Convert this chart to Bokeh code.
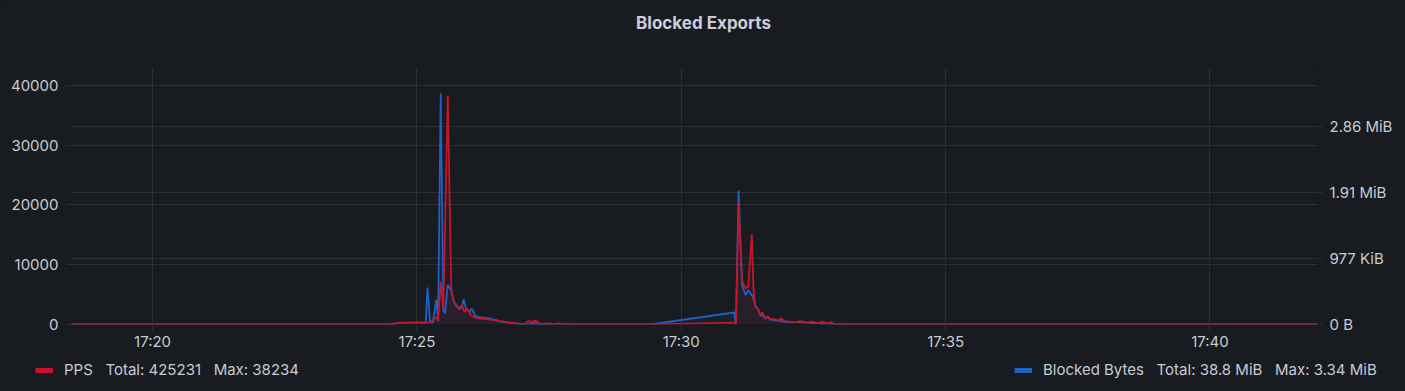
import pandas as pd
from bokeh.plotting import figure
from bokeh.layouts import column
from bokeh.models import (Range1d, LinearAxis, FixedTicker, DatetimeTickFormatter,
                          NumeralTickFormatter, Grid, Legend, LegendItem, Label)
from bokeh.embed import file_html
from bokeh.resources import INLINE

DAY = "2024-01-01 "

# ---- PPS series (left axis) ----
pps_times = ["17:18:28", "17:24:30", "17:24:38", "17:24:50", "17:25:05", "17:25:12", "17:25:16",
             "17:25:22", "17:25:24", "17:25:27", "17:25:30", "17:25:35", "17:25:39", "17:25:42",
             "17:25:45", "17:25:48", "17:25:51", "17:25:54", "17:25:57", "17:26:01", "17:26:05",
             "17:26:08", "17:26:24", "17:26:35", "17:26:46", "17:26:58", "17:27:03", "17:27:07",
             "17:27:09", "17:27:11", "17:27:12", "17:27:14", "17:27:15", "17:27:16", "17:27:19",
             "17:27:30", "17:27:36", "17:27:40", "17:27:55", "17:29:25", "17:31:00", "17:31:02",
             "17:31:05", "17:31:09", "17:31:13", "17:31:16", "17:31:20", "17:31:22", "17:31:24",
             "17:31:27", "17:31:30", "17:31:32", "17:31:35", "17:31:38", "17:31:41", "17:31:45",
             "17:31:49", "17:31:53", "17:31:57", "17:32:04", "17:32:11", "17:32:15", "17:32:22",
             "17:32:29", "17:32:36", "17:32:40", "17:32:45", "17:32:50", "17:32:55", "17:33:07",
             "17:42:02"]
pps_values = [0, 0, 250, 300, 320, 300, 430,
              1170, 700, 7120, 2700, 38234, 5735, 3779,
              3227, 2675, 3227, 2107, 2675, 1555, 1270,
              1053, 800, 550, 330, 130, 100, 700,
              150, 650, 120, 700, 150, 600, 100,
              180, 60, 200, 0, 0, 300, 0,
              20400, 7400, 6020, 6400, 15100, 5735, 2940,
              2560, 1555, 2057, 1053, 1388, 886, 970,
              635, 1053, 550, 470, 385, 550, 300,
              470, 220, 470, 220, 385, 50, 0,
              0]

# ---- Blocked Bytes series (right axis) ----
bytes_times = ["17:18:28", "17:24:30", "17:24:38", "17:24:50", "17:25:05", "17:25:10", "17:25:12",
               "17:25:15", "17:25:18", "17:25:22", "17:25:24", "17:25:27", "17:25:30", "17:25:32",
               "17:25:35", "17:25:39", "17:25:42", "17:25:45", "17:25:48", "17:25:51", "17:25:53",
               "17:25:56", "17:26:00", "17:26:02", "17:26:06", "17:26:09", "17:26:24", "17:26:35",
               "17:26:46", "17:27:03", "17:29:25", "17:31:00", "17:31:02", "17:31:05", "17:31:09",
               "17:31:13", "17:31:16", "17:31:20", "17:31:22", "17:31:24", "17:31:27", "17:31:30",
               "17:31:32", "17:31:35", "17:31:38", "17:31:41", "17:31:49", "17:31:57", "17:32:15",
               "17:32:32", "17:32:55", "17:33:07", "17:42:02"]
bytes_values = [0, 0, 20000, 28000, 30000, 25000, 560000,
                35000, 27000, 379000, 50000, 3502243, 217000, 171000,
                600000, 520000, 342000, 277000, 232000, 262000, 379000,
                232000, 191000, 242000, 141000, 115000, 88000, 45000,
                23000, 0, 0, 182000, 15000, 2025000, 595000,
                444000, 520000, 444000, 398000, 292000, 232000, 126000,
                156000, 88000, 118000, 73000, 58000, 42000, 35000,
                20000, 5000, 0, 0]

x_tick_labels = ["17:20", "17:25", "17:30", "17:35", "17:40"]
left_ticks = [0, 10000, 20000, 30000, 40000]
right_ticks = [0, 1000000, 2000000, 3000000]
right_tick_labels = ["0 B", "977 KiB", "1.91 MiB", "2.86 MiB"]

title_text = "Blocked Exports"
pps_name, pps_total, pps_max = "PPS", "425231", "38234"
bytes_name, bytes_total, bytes_max = "Blocked Bytes", "38.8 MiB", "3.34 MiB"

# ---- styling ----
BG = "#181b1f"
GRID = "#2c2f35"
TXT = "#c9cad4"
RED = "#c4162a"
BLUE = "#1f60c4"
FONT = "Inter"
TICK_SIZE = "15px"
W = 1405
HEAD_H, MAIN_H, FOOT_H = 40, 314, 37


def bare_fig(h):
    f = figure(width=W, height=h, x_range=Range1d(0, W), y_range=Range1d(0, h),
               output_backend="svg", toolbar_location=None,
               x_axis_location=None, y_axis_location=None,
               min_border=0, min_border_left=0, min_border_right=0,
               min_border_top=0, min_border_bottom=0,
               background_fill_color=BG, border_fill_color=BG, outline_line_color=None)
    f.grid.visible = False
    f.frame_align = False
    return f


# ---- header with title ----
head = bare_fig(HEAD_H)
head.add_layout(Label(x=703, y=HEAD_H - 22, text=title_text, text_align="center",
                      text_baseline="middle", text_font=FONT, text_font_size="17px",
                      text_font_style="bold", text_color="#ccccdc"))

# ---- main chart ----
pps_x = pd.to_datetime([DAY + t for t in pps_times])
bytes_x = pd.to_datetime([DAY + t for t in bytes_times])
x_ticks = [pd.Timestamp(DAY + t).timestamp() * 1000 for t in x_tick_labels]

p = figure(width=W, height=MAIN_H, x_axis_type="datetime",
           x_range=Range1d(pps_x[0].to_pydatetime(), pps_x[-1].to_pydatetime()),
           y_range=Range1d(0, 42960),
           output_backend="svg", toolbar_location=None,
           min_border_left=71, min_border_right=88, min_border_top=27, min_border_bottom=30,
           background_fill_color=BG, border_fill_color=BG, outline_line_color=None)
p.frame_align = False
p.extra_y_ranges = {"bytes": Range1d(0, 3894000)}


def style_axis(ax, tick_out, standoff):
    ax.axis_line_color = None
    ax.major_tick_line_color = GRID
    ax.major_tick_out = tick_out
    ax.major_tick_in = 0
    ax.minor_tick_line_color = None
    ax.major_label_text_color = TXT
    ax.major_label_text_font = FONT
    ax.major_label_text_font_size = TICK_SIZE
    ax.major_label_standoff = standoff


p.xaxis.ticker = FixedTicker(ticks=x_ticks)
p.xaxis.formatter = DatetimeTickFormatter(seconds="%H:%M", minsec="%H:%M", minutes="%H:%M",
                                          hourmin="%H:%M", hours="%H:%M")
style_axis(p.xaxis[0], 6, 1)

p.yaxis.ticker = FixedTicker(ticks=left_ticks)
p.yaxis.formatter = NumeralTickFormatter(format="0")
style_axis(p.yaxis[0], 5, 8)

right_axis = LinearAxis(y_range_name="bytes", ticker=FixedTicker(ticks=right_ticks),
                        major_label_overrides=dict(zip(right_ticks, right_tick_labels)))
style_axis(right_axis, 5, 7)
p.add_layout(right_axis, "right")

p.xgrid.ticker = FixedTicker(ticks=x_ticks)
p.xgrid.grid_line_color = GRID
p.ygrid.ticker = FixedTicker(ticks=left_ticks)
p.ygrid.grid_line_color = GRID
p.add_layout(Grid(dimension=1, ticker=FixedTicker(ticks=right_ticks), y_range_name="bytes",
                  grid_line_color=GRID))

p.varea(x=bytes_x, y1=0, y2=bytes_values, fill_color=BLUE, fill_alpha=0.07, y_range_name="bytes")
p.varea(x=pps_x, y1=0, y2=pps_values, fill_color=RED, fill_alpha=0.09)
p.line(bytes_x, bytes_values, line_color=BLUE, line_width=1.8, y_range_name="bytes")
p.line(pps_x, pps_values, line_color=RED, line_width=1.8)

# ---- footer with legends ----
foot = bare_fig(FOOT_H)
NAN = float("nan")
# legend-only renderers: one undefined point, so nothing is drawn in the plot area
red_sw = foot.line(x=[0], y=[NAN], line_color=RED, line_width=5)
blue_sw = foot.line(x=[0], y=[NAN], line_color=BLUE, line_width=5)

SEP = " \u00a0 "


def make_legend(label, rend, loc):
    return Legend(items=[LegendItem(label=label, renderers=[rend])], location=loc,
                  orientation="horizontal", padding=0, margin=0, spacing=0,
                  glyph_width=18, glyph_height=16, label_standoff=11, label_height=16,
                  label_text_font=FONT, label_text_font_size="15px", label_text_color=TXT,
                  background_fill_alpha=0, border_line_alpha=0)


foot.add_layout(make_legend(pps_name + SEP + "Total: " + pps_total + SEP + "Max: " + pps_max,
                            red_sw, (35, 12)))
foot.add_layout(make_legend(bytes_name + SEP + "Total: " + bytes_total + SEP + "Max: " + bytes_max,
                            blue_sw, (1014, 12)))

layout = column(head, p, foot, spacing=0,
                styles={"outline": "1px solid #2b2e34", "outline-offset": "-3px",
                        "border-radius": "4px"})
html = file_html(layout, INLINE)
html = html.replace("</head>", "<style>html,body{background:%s;margin:0;}</style></head>" % BG, 1)
open("out.html", "w").write(html)
